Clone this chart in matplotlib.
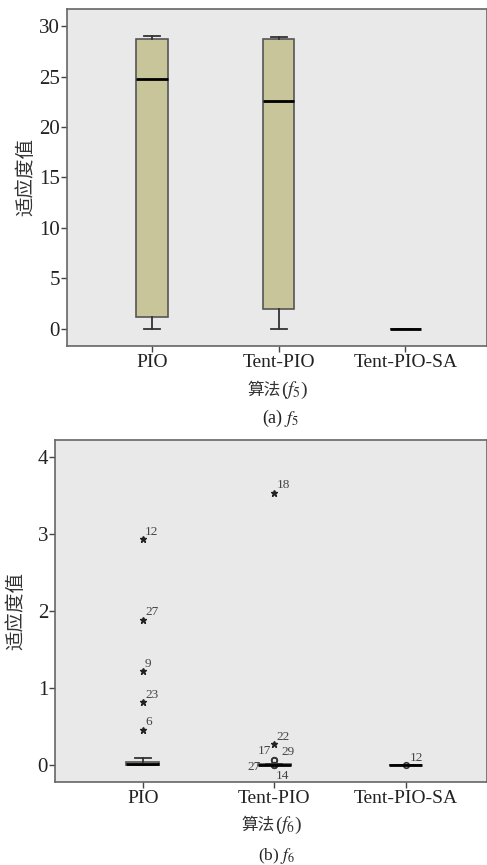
import matplotlib.pyplot as plt
from matplotlib import rcParams

rcParams['font.family'] = ['Liberation Serif', 'Noto Sans CJK SC']
rcParams['mathtext.fontset'] = 'stix'

algos = ['PIO', 'Tent-PIO', 'Tent-PIO-SA']

# f5 box statistics
f5_low = [0.0, 0.0, 0.0]
f5_q1 = [1.2, 2.0, 0.0]
f5_med = [24.8, 22.6, 0.0]
f5_q3 = [28.7, 28.7, 0.0]
f5_high = [29.0, 28.9, 0.0]

# f6 box statistics
f6_low = [0.0, 0.0, 0.0]
f6_q1 = [0.0, 0.0, 0.0]
f6_med = [0.012, 0.005, 0.0]
f6_q3 = [0.04, 0.01, 0.0]
f6_high = [0.09, 0.01, 0.0]

# f6 outliers: algorithm index, value, run number, kind (* extreme, o mild)
out_algo = [0, 0, 0, 0, 0, 1, 1, 1, 1, 1, 1, 2]
out_val = [2.94, 1.89, 1.22, 0.82, 0.46, 3.54, 0.27, 0.065, 0.06, 0.005, 0.002, 0.0]
out_id = ['12', '27', '9', '23', '6', '18', '22', '17', '29', '27', '14', '12']
out_kind = ['*', '*', '*', '*', '*', '*', '*', 'o', 'o', 'o', 'o', 'o']
# label offsets in points
out_dx = [1.5, 1.5, 1.5, 1.5, 1.5, 1.5, 1.5, -12, 5, -19, 1, 3]
out_dy = [3, 3, 3, 3, 3, 3, 3, 4, 4, -4, -10, 3]

box_face = '#c9c59a'
panel_bg = '#e9e9e9'
edge = '#555555'


def make_stats(low, q1, med, q3, high):
    stats = []
    for i in range(len(algos)):
        stats.append({'whislo': low[i], 'q1': q1[i], 'med': med[i],
                      'q3': q3[i], 'whishi': high[i], 'fliers': []})
    return stats


def style_axes(ax):
    ax.set_facecolor(panel_bg)
    for s in ax.spines.values():
        s.set_color('#666666')
        s.set_linewidth(1.2)
    ax.tick_params(direction='out', length=4, width=1, colors='#444444',
                   labelsize=14, labelcolor='#222222', pad=2)
    ax.tick_params(axis='y', labelsize=15, pad=1)


def draw_box(ax, stats):
    ax.bxp(stats, positions=[1, 2, 3], widths=0.25, patch_artist=True,
           showfliers=False,
           boxprops=dict(facecolor=box_face, edgecolor=edge, linewidth=1.2),
           medianprops=dict(color='black', linewidth=2),
           whiskerprops=dict(color='#333333', linewidth=1.3),
           capprops=dict(color='#333333', linewidth=1.3), capwidths=0.125)


def algo_label(x, y, sub):
    # CJK part and the italic f part are drawn as two pieces side by side
    fig.text(x - 0.003, y, '算法', fontsize=12, color='#333333',
             family='Noto Sans CJK SC', ha='right', va='center')
    fig.text(x - 0.003, y, '($f_' + sub + '$)', fontsize=14, color='#333333',
             ha='left', va='center')


fig = plt.figure(figsize=(4.87, 8.65), dpi=100)

# (a) f5
ax1 = fig.add_axes([0.1376, 0.6, 0.8614, 0.3896])
style_axes(ax1)
draw_box(ax1, make_stats(f5_low, f5_q1, f5_med, f5_q3, f5_high))
ax1.set_xlim(0.331, 3.64)
ax1.set_ylim(-1.7, 31.7)
ax1.set_yticks([0, 5, 10, 15, 20, 25, 30])
ax1.set_xticks([1, 2, 3])
ax1.set_xticklabels(algos)
ax1.set_ylabel('适应度值', fontsize=14, color='#333333', labelpad=3)
algo_label(282 / 487, 1 - 390 / 865, '5')
fig.text(281 / 487, 1 - 423 / 865, '(a) $f_5$', fontsize=13, color='#222222',
         ha='center', va='baseline')

# (b) f6
ax2 = fig.add_axes([0.113, 0.096, 0.886, 0.395])
style_axes(ax2)
draw_box(ax2, make_stats(f6_low, f6_q1, f6_med, f6_q3, f6_high))
for a, v, lab, k, dx, dy in zip(out_algo, out_val, out_id, out_kind, out_dx, out_dy):
    if k == '*':
        ax2.plot(a + 1, v, marker='*', ms=5, color='#222222', linestyle='none')
    else:
        ax2.plot(a + 1, v, marker='o', ms=4, mfc='none', mec='#333333',
                 mew=1.2, linestyle='none')
    ax2.annotate(lab, (a + 1, v), xytext=(dx, dy), textcoords='offset points',
                 fontsize=9.5, color='#444444')
ax2.set_xlim(0.331, 3.616)
ax2.set_ylim(-0.22, 4.22)
ax2.set_yticks([0, 1, 2, 3, 4])
ax2.set_xticks([1, 2, 3])
ax2.set_xticklabels(algos)
ax2.set_ylabel('适应度值', fontsize=14, color='#333333', labelpad=9)
algo_label(276 / 487, 1 - 825 / 865, '6')
fig.text(277 / 487, 1 - 860 / 865, '(b) $f_6$', fontsize=12.5, color='#222222',
         ha='center', va='baseline')

fig.savefig('out.png', dpi=100)
